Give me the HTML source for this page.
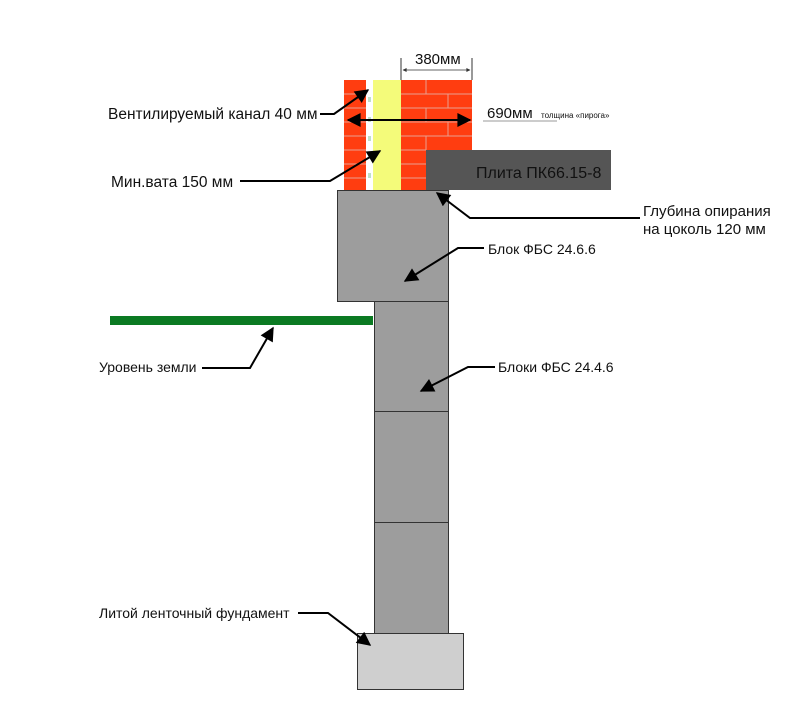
<!DOCTYPE html>
<html><head><meta charset="utf-8"><style>body{margin:0;background:#fff}svg{display:block}text{font-family:"Liberation Sans",sans-serif;fill:#111}</style></head><body>
<svg width="800" height="725" viewBox="0 0 800 725" xmlns="http://www.w3.org/2000/svg">
<defs><marker id="a" viewBox="0 0 10 10" refX="9" refY="5" markerWidth="9" markerHeight="7" orient="auto-start-reverse"><path d="M0,0L10,5L0,10z" fill="#000"/></marker>
<marker id="s" viewBox="0 0 10 10" refX="9" refY="5" markerWidth="6" markerHeight="5" orient="auto-start-reverse"><path d="M0,0L10,5L0,10z" fill="#333"/></marker></defs>
<rect x="344" y="80" width="22" height="110" fill="#ff3d10"/>
<g stroke="#e8a090" stroke-width="1">
<line x1="344" y1="94" x2="366" y2="94"/><line x1="344" y1="108" x2="366" y2="108"/><line x1="344" y1="122" x2="366" y2="122"/><line x1="344" y1="136" x2="366" y2="136"/><line x1="344" y1="150" x2="366" y2="150"/><line x1="344" y1="164" x2="366" y2="164"/><line x1="344" y1="178" x2="366" y2="178"/>
</g>
<rect x="366" y="80" width="7" height="110" fill="#fff"/>
<g fill="#bfe0c8"><rect x="368" y="97" width="3" height="5"/><rect x="368" y="117" width="3" height="5"/><rect x="368" y="136" width="3" height="5"/><rect x="368" y="173" width="3" height="5"/></g>
<rect x="373" y="80" width="28" height="110" fill="#f4fb7a"/>
<rect x="401" y="80" width="71" height="110" fill="#ff3d10"/>
<g stroke="#e8a090" stroke-width="1">
<line x1="401" y1="94" x2="472" y2="94"/><line x1="401" y1="108" x2="472" y2="108"/><line x1="401" y1="122" x2="472" y2="122"/><line x1="401" y1="136" x2="472" y2="136"/><line x1="401" y1="150" x2="426" y2="150"/><line x1="401" y1="164" x2="426" y2="164"/><line x1="401" y1="178" x2="426" y2="178"/>
<line x1="426" y1="80" x2="426" y2="94"/><line x1="448" y1="94" x2="448" y2="108"/><line x1="426" y1="108" x2="426" y2="122"/><line x1="448" y1="122" x2="448" y2="136"/><line x1="426" y1="136" x2="426" y2="150"/>
</g>
<rect x="426" y="150" width="185" height="40" fill="#555"/>
<text x="476" y="178" font-size="16">Плита ПК66.15-8</text>
<rect x="337.5" y="190.5" width="111" height="111" fill="#9d9d9d" stroke="#333"/>
<rect x="374.5" y="301.5" width="74" height="110" fill="#9d9d9d" stroke="#333"/>
<rect x="374.5" y="411.5" width="74" height="111" fill="#9d9d9d" stroke="#333"/>
<rect x="374.5" y="522.5" width="74" height="111" fill="#9d9d9d" stroke="#333"/>
<rect x="357.5" y="633.5" width="106" height="56" fill="#cfcfcf" stroke="#333"/>
<rect x="110" y="316" width="263" height="9" fill="#0b7a22"/>
<g stroke="#333" stroke-width="1" fill="none">
<line x1="401" y1="58" x2="401" y2="80"/><line x1="472" y1="58" x2="472" y2="80"/>
<line x1="403" y1="70" x2="470" y2="70" marker-start="url(#s)" marker-end="url(#s)" stroke-width="0.8"/>
<line x1="483" y1="121" x2="557" y2="121" stroke="#999"/>
</g>
<text x="415" y="64" font-size="15">380мм</text>
<text x="487" y="118" font-size="15">690мм</text>
<text x="541" y="118" font-size="8">толщина «пирога»</text>
<g stroke="#000" stroke-width="2" fill="none">
<line x1="348" y1="120" x2="470" y2="120" marker-start="url(#a)" marker-end="url(#a)"/>
<polyline points="320,114 334,114 368,90" marker-end="url(#a)"/>
<polyline points="240,181 330,181 380,151" marker-end="url(#a)"/>
<polyline points="640,218 470,218 437,193" marker-end="url(#a)"/>
<polyline points="484,248 458,248 405,281" marker-end="url(#a)"/>
<polyline points="202,368 250,368 273,328" marker-end="url(#a)"/>
<polyline points="495,367 468,367 421,391" marker-end="url(#a)"/>
<polyline points="298,613 328,613 370,645" marker-end="url(#a)"/>
</g>
<text x="108" y="119" font-size="15.5">Вентилируемый канал 40 мм</text>
<text x="111" y="187" font-size="15.5">Мин.вата 150 мм</text>
<text x="643" y="216" font-size="15">Глубина опирания</text>
<text x="643" y="234" font-size="15">на цоколь 120 мм</text>
<text x="488" y="254" font-size="14">Блок ФБС 24.6.6</text>
<text x="99" y="372" font-size="14">Уровень земли</text>
<text x="498" y="372" font-size="14">Блоки ФБС 24.4.6</text>
<text x="99" y="618" font-size="14">Литой ленточный фундамент</text>
</svg>
</body></html>
